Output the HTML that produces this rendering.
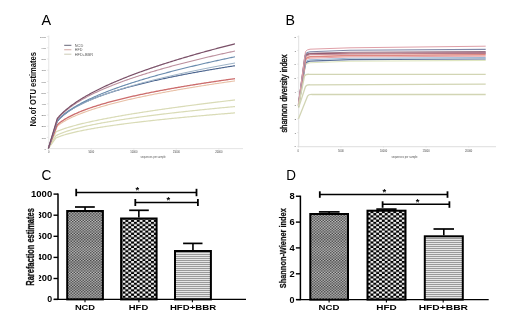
<!DOCTYPE html>
<html><head><meta charset="utf-8"><style>
html,body{margin:0;padding:0;background:#fff;overflow:hidden;}
svg{display:block;will-change:transform;}
text{font-family:"Liberation Sans", sans-serif;}
</style></head><body>
<svg width="520" height="321" viewBox="0 0 520 321">
<rect width="520" height="321" fill="#fff"/>
<text x="41.6" y="25" font-size="13.8" font-weight="normal" fill="#000" text-anchor="start" textLength="9.6" lengthAdjust="spacingAndGlyphs" >A</text>
<line x1="48.8" y1="35.5" x2="48.8" y2="149.1" stroke="#e2e2e2" stroke-width="0.9" />
<line x1="47.9" y1="148.6" x2="243" y2="148.6" stroke="#e2e2e2" stroke-width="0.9" />
<line x1="46.9" y1="148.6" x2="48.4" y2="148.6" stroke="#d4d4d4" stroke-width="0.5" />
<text transform="translate(46.1,149.70) scale(1,0.75)" font-size="2.8" fill="#555" text-anchor="end">0</text>
<line x1="46.9" y1="137.4" x2="48.4" y2="137.4" stroke="#d4d4d4" stroke-width="0.5" />
<text transform="translate(46.1,138.50) scale(1,0.75)" font-size="2.8" fill="#555" text-anchor="end">100</text>
<line x1="46.9" y1="126.19999999999999" x2="48.4" y2="126.19999999999999" stroke="#d4d4d4" stroke-width="0.5" />
<text transform="translate(46.1,127.30) scale(1,0.75)" font-size="2.8" fill="#555" text-anchor="end">200</text>
<line x1="46.9" y1="115.0" x2="48.4" y2="115.0" stroke="#d4d4d4" stroke-width="0.5" />
<text transform="translate(46.1,116.10) scale(1,0.75)" font-size="2.8" fill="#555" text-anchor="end">300</text>
<line x1="46.9" y1="103.8" x2="48.4" y2="103.8" stroke="#d4d4d4" stroke-width="0.5" />
<text transform="translate(46.1,104.90) scale(1,0.75)" font-size="2.8" fill="#555" text-anchor="end">400</text>
<line x1="46.9" y1="92.6" x2="48.4" y2="92.6" stroke="#d4d4d4" stroke-width="0.5" />
<text transform="translate(46.1,93.70) scale(1,0.75)" font-size="2.8" fill="#555" text-anchor="end">500</text>
<line x1="46.9" y1="81.4" x2="48.4" y2="81.4" stroke="#d4d4d4" stroke-width="0.5" />
<text transform="translate(46.1,82.50) scale(1,0.75)" font-size="2.8" fill="#555" text-anchor="end">600</text>
<line x1="46.9" y1="70.2" x2="48.4" y2="70.2" stroke="#d4d4d4" stroke-width="0.5" />
<text transform="translate(46.1,71.30) scale(1,0.75)" font-size="2.8" fill="#555" text-anchor="end">700</text>
<line x1="46.9" y1="59.0" x2="48.4" y2="59.0" stroke="#d4d4d4" stroke-width="0.5" />
<text transform="translate(46.1,60.10) scale(1,0.75)" font-size="2.8" fill="#555" text-anchor="end">800</text>
<line x1="46.9" y1="47.8" x2="48.4" y2="47.8" stroke="#d4d4d4" stroke-width="0.5" />
<text transform="translate(46.1,48.90) scale(1,0.75)" font-size="2.8" fill="#555" text-anchor="end">900</text>
<line x1="46.9" y1="36.599999999999994" x2="48.4" y2="36.599999999999994" stroke="#d4d4d4" stroke-width="0.5" />
<text transform="translate(46.1,37.70) scale(1,0.75)" font-size="2.8" fill="#555" text-anchor="end">1000</text>
<line x1="48.8" y1="148.6" x2="48.8" y2="149.79999999999998" stroke="#d4d4d4" stroke-width="0.5" />
<text x="48.8" y="153.1" font-size="2.6" font-weight="normal" fill="#444" text-anchor="middle" >0</text>
<line x1="91.3" y1="148.6" x2="91.3" y2="149.79999999999998" stroke="#d4d4d4" stroke-width="0.5" />
<text x="91.3" y="153.1" font-size="2.6" font-weight="normal" fill="#444" text-anchor="middle" >5000</text>
<line x1="133.8" y1="148.6" x2="133.8" y2="149.79999999999998" stroke="#d4d4d4" stroke-width="0.5" />
<text x="133.8" y="153.1" font-size="2.6" font-weight="normal" fill="#444" text-anchor="middle" >10000</text>
<line x1="176.3" y1="148.6" x2="176.3" y2="149.79999999999998" stroke="#d4d4d4" stroke-width="0.5" />
<text x="176.3" y="153.1" font-size="2.6" font-weight="normal" fill="#444" text-anchor="middle" >15000</text>
<line x1="218.8" y1="148.6" x2="218.8" y2="149.79999999999998" stroke="#d4d4d4" stroke-width="0.5" />
<text x="218.8" y="153.1" font-size="2.6" font-weight="normal" fill="#444" text-anchor="middle" >20000</text>
<text x="153.1" y="158" font-size="2.6" font-weight="normal" fill="#555" text-anchor="middle" textLength="25" lengthAdjust="spacingAndGlyphs" >sequences per sample</text>
<text transform="translate(35.5,126.5) rotate(-90)" font-size="9" font-weight="bold" fill="#111" textLength="74.5" lengthAdjust="spacingAndGlyphs">No.of OTU estimates</text>
<line x1="64.2" y1="45.3" x2="71.4" y2="45.3" stroke="#666678" stroke-width="1.0" />
<text x="74.8" y="46.65" font-size="4.0" font-weight="normal" fill="#555" text-anchor="start" textLength="8.4" lengthAdjust="spacingAndGlyphs" >NCD</text>
<line x1="64.2" y1="49.75" x2="71.4" y2="49.75" stroke="#d4a8a4" stroke-width="1.0" />
<text x="74.8" y="51.1" font-size="4.0" font-weight="normal" fill="#555" text-anchor="start" textLength="7.6" lengthAdjust="spacingAndGlyphs" >HFD</text>
<line x1="64.2" y1="54.199999999999996" x2="71.4" y2="54.199999999999996" stroke="#cccbb6" stroke-width="1.0" />
<text x="74.8" y="55.55" font-size="4.0" font-weight="normal" fill="#555" text-anchor="start" textLength="18.2" lengthAdjust="spacingAndGlyphs" >HFD+BBR</text>
<path d="M48.4,148.3 L56.0,137.99 L56.0,137.99 L57.0,137.55 L58.0,137.13 L59.0,136.74 L60.0,136.37 L61.0,136.01 L62.0,135.67 L63.0,135.34 L64.0,135.03 L65.0,134.72 L66.0,134.43 L67.0,134.14 L68.0,133.87 L69.0,133.60 L70.0,133.34 L71.0,133.08 L72.0,132.83 L73.0,132.59 L74.0,132.35 L75.0,132.12 L76.0,131.89 L77.0,131.66 L78.0,131.44 L79.0,131.23 L80.0,131.01 L81.0,130.81 L82.0,130.60 L83.0,130.40 L84.0,130.20 L85.0,130.01 L86.0,129.81 L87.0,129.62 L88.0,129.44 L89.0,129.25 L90.0,129.07 L91.0,128.89 L92.0,128.71 L93.0,128.54 L94.0,128.36 L95.0,128.19 L96.0,128.02 L97.0,127.86 L98.0,127.69 L99.0,127.53 L100.0,127.37 L101.0,127.21 L102.0,127.05 L103.0,126.89 L104.0,126.74 L105.0,126.58 L106.0,126.43 L107.0,126.28 L108.0,126.13 L109.0,125.98 L110.0,125.84 L111.0,125.69 L112.0,125.55 L113.0,125.40 L114.0,125.26 L115.0,125.12 L116.0,124.98 L117.0,124.85 L118.0,124.71 L119.0,124.57 L120.0,124.44 L121.0,124.30 L122.0,124.17 L123.0,124.04 L124.0,123.91 L125.0,123.78 L126.0,123.65 L127.0,123.52 L128.0,123.39 L129.0,123.27 L130.0,123.14 L131.0,123.02 L132.0,122.89 L133.0,122.77 L134.0,122.65 L135.0,122.52 L136.0,122.40 L137.0,122.28 L138.0,122.16 L139.0,122.05 L140.0,121.93 L141.0,121.81 L142.0,121.69 L143.0,121.58 L144.0,121.46 L145.0,121.35 L146.0,121.23 L147.0,121.12 L148.0,121.01 L149.0,120.90 L150.0,120.79 L151.0,120.67 L152.0,120.56 L153.0,120.46 L154.0,120.35 L155.0,120.24 L156.0,120.13 L157.0,120.02 L158.0,119.92 L159.0,119.81 L160.0,119.70 L161.0,119.60 L162.0,119.49 L163.0,119.39 L164.0,119.29 L165.0,119.18 L166.0,119.08 L167.0,118.98 L168.0,118.88 L169.0,118.77 L170.0,118.67 L171.0,118.57 L172.0,118.47 L173.0,118.37 L174.0,118.27 L175.0,118.17 L176.0,118.08 L177.0,117.98 L178.0,117.88 L179.0,117.78 L180.0,117.69 L181.0,117.59 L182.0,117.50 L183.0,117.40 L184.0,117.30 L185.0,117.21 L186.0,117.12 L187.0,117.02 L188.0,116.93 L189.0,116.83 L190.0,116.74 L191.0,116.65 L192.0,116.56 L193.0,116.47 L194.0,116.37 L195.0,116.28 L196.0,116.19 L197.0,116.10 L198.0,116.01 L199.0,115.92 L200.0,115.83 L201.0,115.74 L202.0,115.65 L203.0,115.57 L204.0,115.48 L205.0,115.39 L206.0,115.30 L207.0,115.22 L208.0,115.13 L209.0,115.04 L210.0,114.96 L211.0,114.87 L212.0,114.78 L213.0,114.70 L214.0,114.61 L215.0,114.53 L216.0,114.44 L217.0,114.36 L218.0,114.27 L219.0,114.19 L220.0,114.11 L221.0,114.02 L222.0,113.94 L223.0,113.86 L224.0,113.78 L225.0,113.69 L226.0,113.61 L227.0,113.53 L228.0,113.45 L229.0,113.37 L230.0,113.29 L231.0,113.20 L232.0,113.12 L233.0,113.04 L234.0,112.96 L235.0,112.88" fill="none" stroke="#d9dbb6" stroke-width="1.2" stroke-linejoin="round" />
<path d="M48.4,148.3 L56.0,135.66 L56.0,135.66 L57.0,135.14 L58.0,134.66 L59.0,134.20 L60.0,133.77 L61.0,133.36 L62.0,132.96 L63.0,132.58 L64.0,132.21 L65.0,131.86 L66.0,131.52 L67.0,131.19 L68.0,130.87 L69.0,130.56 L70.0,130.25 L71.0,129.96 L72.0,129.67 L73.0,129.38 L74.0,129.11 L75.0,128.84 L76.0,128.57 L77.0,128.31 L78.0,128.06 L79.0,127.81 L80.0,127.56 L81.0,127.32 L82.0,127.08 L83.0,126.85 L84.0,126.62 L85.0,126.39 L86.0,126.17 L87.0,125.95 L88.0,125.73 L89.0,125.52 L90.0,125.30 L91.0,125.10 L92.0,124.89 L93.0,124.69 L94.0,124.49 L95.0,124.29 L96.0,124.09 L97.0,123.90 L98.0,123.71 L99.0,123.52 L100.0,123.33 L101.0,123.14 L102.0,122.96 L103.0,122.78 L104.0,122.60 L105.0,122.42 L106.0,122.25 L107.0,122.07 L108.0,121.90 L109.0,121.73 L110.0,121.56 L111.0,121.39 L112.0,121.22 L113.0,121.06 L114.0,120.89 L115.0,120.73 L116.0,120.57 L117.0,120.41 L118.0,120.25 L119.0,120.09 L120.0,119.93 L121.0,119.78 L122.0,119.62 L123.0,119.47 L124.0,119.32 L125.0,119.17 L126.0,119.02 L127.0,118.87 L128.0,118.72 L129.0,118.58 L130.0,118.43 L131.0,118.29 L132.0,118.14 L133.0,118.00 L134.0,117.86 L135.0,117.72 L136.0,117.58 L137.0,117.44 L138.0,117.30 L139.0,117.16 L140.0,117.03 L141.0,116.89 L142.0,116.76 L143.0,116.62 L144.0,116.49 L145.0,116.35 L146.0,116.22 L147.0,116.09 L148.0,115.96 L149.0,115.83 L150.0,115.70 L151.0,115.57 L152.0,115.45 L153.0,115.32 L154.0,115.19 L155.0,115.07 L156.0,114.94 L157.0,114.82 L158.0,114.69 L159.0,114.57 L160.0,114.45 L161.0,114.33 L162.0,114.21 L163.0,114.08 L164.0,113.96 L165.0,113.84 L166.0,113.73 L167.0,113.61 L168.0,113.49 L169.0,113.37 L170.0,113.25 L171.0,113.14 L172.0,113.02 L173.0,112.91 L174.0,112.79 L175.0,112.68 L176.0,112.56 L177.0,112.45 L178.0,112.34 L179.0,112.22 L180.0,112.11 L181.0,112.00 L182.0,111.89 L183.0,111.78 L184.0,111.67 L185.0,111.56 L186.0,111.45 L187.0,111.34 L188.0,111.23 L189.0,111.13 L190.0,111.02 L191.0,110.91 L192.0,110.80 L193.0,110.70 L194.0,110.59 L195.0,110.49 L196.0,110.38 L197.0,110.28 L198.0,110.17 L199.0,110.07 L200.0,109.96 L201.0,109.86 L202.0,109.76 L203.0,109.66 L204.0,109.55 L205.0,109.45 L206.0,109.35 L207.0,109.25 L208.0,109.15 L209.0,109.05 L210.0,108.95 L211.0,108.85 L212.0,108.75 L213.0,108.65 L214.0,108.55 L215.0,108.45 L216.0,108.35 L217.0,108.26 L218.0,108.16 L219.0,108.06 L220.0,107.97 L221.0,107.87 L222.0,107.77 L223.0,107.68 L224.0,107.58 L225.0,107.49 L226.0,107.39 L227.0,107.30 L228.0,107.20 L229.0,107.11 L230.0,107.01 L231.0,106.92 L232.0,106.83 L233.0,106.73 L234.0,106.64 L235.0,106.55" fill="none" stroke="#d9dbb6" stroke-width="1.2" stroke-linejoin="round" />
<path d="M48.4,148.3 L56.0,131.87 L56.0,131.87 L57.0,131.42 L58.0,131.00 L59.0,130.59 L60.0,130.20 L61.0,129.82 L62.0,129.46 L63.0,129.11 L64.0,128.76 L65.0,128.43 L66.0,128.11 L67.0,127.79 L68.0,127.48 L69.0,127.18 L70.0,126.88 L71.0,126.59 L72.0,126.30 L73.0,126.02 L74.0,125.75 L75.0,125.48 L76.0,125.21 L77.0,124.95 L78.0,124.69 L79.0,124.44 L80.0,124.19 L81.0,123.94 L82.0,123.69 L83.0,123.45 L84.0,123.22 L85.0,122.98 L86.0,122.75 L87.0,122.52 L88.0,122.29 L89.0,122.06 L90.0,121.84 L91.0,121.62 L92.0,121.40 L93.0,121.19 L94.0,120.97 L95.0,120.76 L96.0,120.55 L97.0,120.34 L98.0,120.14 L99.0,119.93 L100.0,119.73 L101.0,119.53 L102.0,119.33 L103.0,119.13 L104.0,118.93 L105.0,118.74 L106.0,118.55 L107.0,118.35 L108.0,118.16 L109.0,117.97 L110.0,117.79 L111.0,117.60 L112.0,117.41 L113.0,117.23 L114.0,117.05 L115.0,116.87 L116.0,116.69 L117.0,116.51 L118.0,116.33 L119.0,116.15 L120.0,115.97 L121.0,115.80 L122.0,115.63 L123.0,115.45 L124.0,115.28 L125.0,115.11 L126.0,114.94 L127.0,114.77 L128.0,114.60 L129.0,114.44 L130.0,114.27 L131.0,114.10 L132.0,113.94 L133.0,113.78 L134.0,113.61 L135.0,113.45 L136.0,113.29 L137.0,113.13 L138.0,112.97 L139.0,112.81 L140.0,112.65 L141.0,112.49 L142.0,112.34 L143.0,112.18 L144.0,112.02 L145.0,111.87 L146.0,111.72 L147.0,111.56 L148.0,111.41 L149.0,111.26 L150.0,111.11 L151.0,110.96 L152.0,110.81 L153.0,110.66 L154.0,110.51 L155.0,110.36 L156.0,110.21 L157.0,110.06 L158.0,109.92 L159.0,109.77 L160.0,109.63 L161.0,109.48 L162.0,109.34 L163.0,109.19 L164.0,109.05 L165.0,108.91 L166.0,108.77 L167.0,108.62 L168.0,108.48 L169.0,108.34 L170.0,108.20 L171.0,108.06 L172.0,107.92 L173.0,107.78 L174.0,107.65 L175.0,107.51 L176.0,107.37 L177.0,107.23 L178.0,107.10 L179.0,106.96 L180.0,106.83 L181.0,106.69 L182.0,106.56 L183.0,106.42 L184.0,106.29 L185.0,106.16 L186.0,106.02 L187.0,105.89 L188.0,105.76 L189.0,105.63 L190.0,105.50 L191.0,105.37 L192.0,105.23 L193.0,105.10 L194.0,104.97 L195.0,104.85 L196.0,104.72 L197.0,104.59 L198.0,104.46 L199.0,104.33 L200.0,104.20 L201.0,104.08 L202.0,103.95 L203.0,103.82 L204.0,103.70 L205.0,103.57 L206.0,103.45 L207.0,103.32 L208.0,103.20 L209.0,103.07 L210.0,102.95 L211.0,102.83 L212.0,102.70 L213.0,102.58 L214.0,102.46 L215.0,102.33 L216.0,102.21 L217.0,102.09 L218.0,101.97 L219.0,101.85 L220.0,101.73 L221.0,101.61 L222.0,101.49 L223.0,101.37 L224.0,101.25 L225.0,101.13 L226.0,101.01 L227.0,100.89 L228.0,100.77 L229.0,100.65 L230.0,100.53 L231.0,100.42 L232.0,100.30 L233.0,100.18 L234.0,100.07 L235.0,99.95" fill="none" stroke="#d9dbb6" stroke-width="1.2" stroke-linejoin="round" />
<path d="M48.4,148.3 L57.3,126.11 L58.0,125.55 L59.0,124.79 L60.0,124.07 L61.0,123.38 L62.0,122.73 L63.0,122.10 L64.0,121.50 L65.0,120.91 L66.0,120.35 L67.0,119.81 L68.0,119.28 L69.0,118.77 L70.0,118.27 L71.0,117.79 L72.0,117.32 L73.0,116.85 L74.0,116.40 L75.0,115.96 L76.0,115.53 L77.0,115.11 L78.0,114.70 L79.0,114.29 L80.0,113.90 L81.0,113.50 L82.0,113.12 L83.0,112.74 L84.0,112.37 L85.0,112.01 L86.0,111.65 L87.0,111.29 L88.0,110.95 L89.0,110.60 L90.0,110.26 L91.0,109.93 L92.0,109.60 L93.0,109.27 L94.0,108.95 L95.0,108.64 L96.0,108.32 L97.0,108.01 L98.0,107.71 L99.0,107.41 L100.0,107.11 L101.0,106.81 L102.0,106.52 L103.0,106.23 L104.0,105.94 L105.0,105.66 L106.0,105.38 L107.0,105.10 L108.0,104.83 L109.0,104.55 L110.0,104.29 L111.0,104.02 L112.0,103.75 L113.0,103.49 L114.0,103.23 L115.0,102.97 L116.0,102.72 L117.0,102.46 L118.0,102.21 L119.0,101.96 L120.0,101.72 L121.0,101.47 L122.0,101.23 L123.0,100.99 L124.0,100.75 L125.0,100.51 L126.0,100.27 L127.0,100.04 L128.0,99.81 L129.0,99.58 L130.0,99.35 L131.0,99.12 L132.0,98.89 L133.0,98.67 L134.0,98.45 L135.0,98.23 L136.0,98.01 L137.0,97.79 L138.0,97.57 L139.0,97.36 L140.0,97.14 L141.0,96.93 L142.0,96.72 L143.0,96.51 L144.0,96.30 L145.0,96.09 L146.0,95.88 L147.0,95.68 L148.0,95.47 L149.0,95.27 L150.0,95.07 L151.0,94.87 L152.0,94.67 L153.0,94.47 L154.0,94.27 L155.0,94.08 L156.0,93.88 L157.0,93.69 L158.0,93.49 L159.0,93.30 L160.0,93.11 L161.0,92.92 L162.0,92.73 L163.0,92.54 L164.0,92.36 L165.0,92.17 L166.0,91.98 L167.0,91.80 L168.0,91.62 L169.0,91.43 L170.0,91.25 L171.0,91.07 L172.0,90.89 L173.0,90.71 L174.0,90.53 L175.0,90.35 L176.0,90.18 L177.0,90.00 L178.0,89.83 L179.0,89.65 L180.0,89.48 L181.0,89.30 L182.0,89.13 L183.0,88.96 L184.0,88.79 L185.0,88.62 L186.0,88.45 L187.0,88.28 L188.0,88.11 L189.0,87.95 L190.0,87.78 L191.0,87.61 L192.0,87.45 L193.0,87.28 L194.0,87.12 L195.0,86.96 L196.0,86.79 L197.0,86.63 L198.0,86.47 L199.0,86.31 L200.0,86.15 L201.0,85.99 L202.0,85.83 L203.0,85.67 L204.0,85.51 L205.0,85.36 L206.0,85.20 L207.0,85.04 L208.0,84.89 L209.0,84.73 L210.0,84.58 L211.0,84.43 L212.0,84.27 L213.0,84.12 L214.0,83.97 L215.0,83.82 L216.0,83.66 L217.0,83.51 L218.0,83.36 L219.0,83.21 L220.0,83.06 L221.0,82.92 L222.0,82.77 L223.0,82.62 L224.0,82.47 L225.0,82.33 L226.0,82.18 L227.0,82.03 L228.0,81.89 L229.0,81.74 L230.0,81.60 L231.0,81.46 L232.0,81.31 L233.0,81.17 L234.0,81.03 L235.0,80.89" fill="none" stroke="#e8c0a6" stroke-width="1.1" stroke-linejoin="round" />
<path d="M48.4,148.3 L57.3,124.75 L58.0,124.14 L59.0,123.32 L60.0,122.54 L61.0,121.80 L62.0,121.09 L63.0,120.42 L64.0,119.77 L65.0,119.15 L66.0,118.56 L67.0,117.98 L68.0,117.42 L69.0,116.88 L70.0,116.36 L71.0,115.85 L72.0,115.35 L73.0,114.86 L74.0,114.39 L75.0,113.93 L76.0,113.48 L77.0,113.04 L78.0,112.61 L79.0,112.19 L80.0,111.77 L81.0,111.37 L82.0,110.97 L83.0,110.58 L84.0,110.19 L85.0,109.81 L86.0,109.44 L87.0,109.08 L88.0,108.72 L89.0,108.36 L90.0,108.01 L91.0,107.67 L92.0,107.33 L93.0,106.99 L94.0,106.66 L95.0,106.34 L96.0,106.02 L97.0,105.70 L98.0,105.39 L99.0,105.08 L100.0,104.77 L101.0,104.47 L102.0,104.17 L103.0,103.88 L104.0,103.59 L105.0,103.30 L106.0,103.01 L107.0,102.73 L108.0,102.45 L109.0,102.17 L110.0,101.90 L111.0,101.63 L112.0,101.36 L113.0,101.09 L114.0,100.83 L115.0,100.57 L116.0,100.31 L117.0,100.05 L118.0,99.80 L119.0,99.55 L120.0,99.30 L121.0,99.05 L122.0,98.80 L123.0,98.56 L124.0,98.32 L125.0,98.08 L126.0,97.84 L127.0,97.61 L128.0,97.37 L129.0,97.14 L130.0,96.91 L131.0,96.68 L132.0,96.45 L133.0,96.23 L134.0,96.00 L135.0,95.78 L136.0,95.56 L137.0,95.34 L138.0,95.12 L139.0,94.91 L140.0,94.69 L141.0,94.48 L142.0,94.27 L143.0,94.06 L144.0,93.85 L145.0,93.64 L146.0,93.44 L147.0,93.23 L148.0,93.03 L149.0,92.82 L150.0,92.62 L151.0,92.42 L152.0,92.22 L153.0,92.02 L154.0,91.83 L155.0,91.63 L156.0,91.44 L157.0,91.24 L158.0,91.05 L159.0,90.86 L160.0,90.67 L161.0,90.48 L162.0,90.29 L163.0,90.11 L164.0,89.92 L165.0,89.74 L166.0,89.55 L167.0,89.37 L168.0,89.19 L169.0,89.01 L170.0,88.82 L171.0,88.65 L172.0,88.47 L173.0,88.29 L174.0,88.11 L175.0,87.94 L176.0,87.76 L177.0,87.59 L178.0,87.41 L179.0,87.24 L180.0,87.07 L181.0,86.90 L182.0,86.73 L183.0,86.56 L184.0,86.39 L185.0,86.22 L186.0,86.05 L187.0,85.89 L188.0,85.72 L189.0,85.56 L190.0,85.39 L191.0,85.23 L192.0,85.07 L193.0,84.90 L194.0,84.74 L195.0,84.58 L196.0,84.42 L197.0,84.26 L198.0,84.10 L199.0,83.94 L200.0,83.79 L201.0,83.63 L202.0,83.47 L203.0,83.32 L204.0,83.16 L205.0,83.01 L206.0,82.85 L207.0,82.70 L208.0,82.55 L209.0,82.40 L210.0,82.25 L211.0,82.09 L212.0,81.94 L213.0,81.79 L214.0,81.64 L215.0,81.50 L216.0,81.35 L217.0,81.20 L218.0,81.05 L219.0,80.91 L220.0,80.76 L221.0,80.61 L222.0,80.47 L223.0,80.33 L224.0,80.18 L225.0,80.04 L226.0,79.89 L227.0,79.75 L228.0,79.61 L229.0,79.47 L230.0,79.33 L231.0,79.19 L232.0,79.05 L233.0,78.91 L234.0,78.77 L235.0,78.63" fill="none" stroke="#cc6c6c" stroke-width="1.3" stroke-linejoin="round" />
<path d="M48.4,148.3 L57.3,121.32 L58.0,120.51 L59.0,119.41 L60.0,118.39 L61.0,117.42 L62.0,116.51 L63.0,115.63 L64.0,114.80 L65.0,114.00 L66.0,113.24 L67.0,112.50 L68.0,111.79 L69.0,111.10 L70.0,110.43 L71.0,109.78 L72.0,109.16 L73.0,108.55 L74.0,107.95 L75.0,107.38 L76.0,106.81 L77.0,106.26 L78.0,105.73 L79.0,105.20 L80.0,104.69 L81.0,104.18 L82.0,103.69 L83.0,103.20 L84.0,102.73 L85.0,102.26 L86.0,101.81 L87.0,101.36 L88.0,100.92 L89.0,100.48 L90.0,100.06 L91.0,99.64 L92.0,99.22 L93.0,98.81 L94.0,98.41 L95.0,98.02 L96.0,97.63 L97.0,97.24 L98.0,96.86 L99.0,96.49 L100.0,96.12 L101.0,95.76 L102.0,95.40 L103.0,95.04 L104.0,94.69 L105.0,94.34 L106.0,94.00 L107.0,93.66 L108.0,93.32 L109.0,92.99 L110.0,92.66 L111.0,92.34 L112.0,92.02 L113.0,91.70 L114.0,91.39 L115.0,91.08 L116.0,90.77 L117.0,90.46 L118.0,90.16 L119.0,89.86 L120.0,89.57 L121.0,89.27 L122.0,88.98 L123.0,88.69 L124.0,88.41 L125.0,88.12 L126.0,87.84 L127.0,87.56 L128.0,87.29 L129.0,87.01 L130.0,86.74 L131.0,86.47 L132.0,86.21 L133.0,85.94 L134.0,85.68 L135.0,85.42 L136.0,85.16 L137.0,84.90 L138.0,84.65 L139.0,84.39 L140.0,84.14 L141.0,83.89 L142.0,83.64 L143.0,83.40 L144.0,83.15 L145.0,82.91 L146.0,82.67 L147.0,82.43 L148.0,82.19 L149.0,81.96 L150.0,81.72 L151.0,81.49 L152.0,81.26 L153.0,81.03 L154.0,80.80 L155.0,80.57 L156.0,80.35 L157.0,80.12 L158.0,79.90 L159.0,79.68 L160.0,79.46 L161.0,79.24 L162.0,79.02 L163.0,78.80 L164.0,78.59 L165.0,78.37 L166.0,78.16 L167.0,77.95 L168.0,77.74 L169.0,77.53 L170.0,77.32 L171.0,77.12 L172.0,76.91 L173.0,76.71 L174.0,76.50 L175.0,76.30 L176.0,76.10 L177.0,75.90 L178.0,75.70 L179.0,75.50 L180.0,75.30 L181.0,75.11 L182.0,74.91 L183.0,74.72 L184.0,74.52 L185.0,74.33 L186.0,74.14 L187.0,73.95 L188.0,73.76 L189.0,73.57 L190.0,73.38 L191.0,73.20 L192.0,73.01 L193.0,72.82 L194.0,72.64 L195.0,72.46 L196.0,72.27 L197.0,72.09 L198.0,71.91 L199.0,71.73 L200.0,71.55 L201.0,71.37 L202.0,71.19 L203.0,71.02 L204.0,70.84 L205.0,70.67 L206.0,70.49 L207.0,70.32 L208.0,70.14 L209.0,69.97 L210.0,69.80 L211.0,69.63 L212.0,69.46 L213.0,69.29 L214.0,69.12 L215.0,68.95 L216.0,68.78 L217.0,68.61 L218.0,68.45 L219.0,68.28 L220.0,68.12 L221.0,67.95 L222.0,67.79 L223.0,67.62 L224.0,67.46 L225.0,67.30 L226.0,67.14 L227.0,66.98 L228.0,66.82 L229.0,66.66 L230.0,66.50 L231.0,66.34 L232.0,66.18 L233.0,66.02 L234.0,65.87 L235.0,65.71" fill="none" stroke="#48628c" stroke-width="1.1" stroke-linejoin="round" />
<path d="M48.4,148.3 L57.3,120.75 L58.0,120.02 L59.0,119.02 L60.0,118.08 L61.0,117.19 L62.0,116.34 L63.0,115.52 L64.0,114.73 L65.0,113.98 L66.0,113.25 L67.0,112.55 L68.0,111.87 L69.0,111.20 L70.0,110.56 L71.0,109.93 L72.0,109.32 L73.0,108.73 L74.0,108.15 L75.0,107.58 L76.0,107.03 L77.0,106.48 L78.0,105.95 L79.0,105.43 L80.0,104.92 L81.0,104.42 L82.0,103.92 L83.0,103.44 L84.0,102.96 L85.0,102.49 L86.0,102.03 L87.0,101.58 L88.0,101.13 L89.0,100.69 L90.0,100.26 L91.0,99.83 L92.0,99.40 L93.0,98.99 L94.0,98.58 L95.0,98.17 L96.0,97.77 L97.0,97.37 L98.0,96.98 L99.0,96.60 L100.0,96.22 L101.0,95.84 L102.0,95.46 L103.0,95.09 L104.0,94.73 L105.0,94.37 L106.0,94.01 L107.0,93.66 L108.0,93.31 L109.0,92.96 L110.0,92.61 L111.0,92.27 L112.0,91.94 L113.0,91.60 L114.0,91.27 L115.0,90.94 L116.0,90.62 L117.0,90.29 L118.0,89.97 L119.0,89.66 L120.0,89.34 L121.0,89.03 L122.0,88.72 L123.0,88.41 L124.0,88.11 L125.0,87.81 L126.0,87.51 L127.0,87.21 L128.0,86.91 L129.0,86.62 L130.0,86.33 L131.0,86.04 L132.0,85.75 L133.0,85.47 L134.0,85.19 L135.0,84.91 L136.0,84.63 L137.0,84.35 L138.0,84.07 L139.0,83.80 L140.0,83.53 L141.0,83.26 L142.0,82.99 L143.0,82.72 L144.0,82.46 L145.0,82.19 L146.0,81.93 L147.0,81.67 L148.0,81.41 L149.0,81.16 L150.0,80.90 L151.0,80.65 L152.0,80.39 L153.0,80.14 L154.0,79.89 L155.0,79.64 L156.0,79.40 L157.0,79.15 L158.0,78.91 L159.0,78.66 L160.0,78.42 L161.0,78.18 L162.0,77.94 L163.0,77.70 L164.0,77.46 L165.0,77.23 L166.0,76.99 L167.0,76.76 L168.0,76.53 L169.0,76.30 L170.0,76.07 L171.0,75.84 L172.0,75.61 L173.0,75.38 L174.0,75.16 L175.0,74.93 L176.0,74.71 L177.0,74.49 L178.0,74.27 L179.0,74.05 L180.0,73.83 L181.0,73.61 L182.0,73.39 L183.0,73.17 L184.0,72.96 L185.0,72.74 L186.0,72.53 L187.0,72.32 L188.0,72.11 L189.0,71.89 L190.0,71.68 L191.0,71.47 L192.0,71.27 L193.0,71.06 L194.0,70.85 L195.0,70.65 L196.0,70.44 L197.0,70.24 L198.0,70.03 L199.0,69.83 L200.0,69.63 L201.0,69.43 L202.0,69.23 L203.0,69.03 L204.0,68.83 L205.0,68.63 L206.0,68.43 L207.0,68.24 L208.0,68.04 L209.0,67.84 L210.0,67.65 L211.0,67.46 L212.0,67.26 L213.0,67.07 L214.0,66.88 L215.0,66.69 L216.0,66.50 L217.0,66.31 L218.0,66.12 L219.0,65.93 L220.0,65.74 L221.0,65.56 L222.0,65.37 L223.0,65.18 L224.0,65.00 L225.0,64.81 L226.0,64.63 L227.0,64.45 L228.0,64.26 L229.0,64.08 L230.0,63.90 L231.0,63.72 L232.0,63.54 L233.0,63.36 L234.0,63.18 L235.0,63.00" fill="none" stroke="#9eb4c8" stroke-width="1.0" stroke-linejoin="round" />
<path d="M48.4,148.3 L57.3,120.45 L58.0,119.70 L59.0,118.69 L60.0,117.72 L61.0,116.81 L62.0,115.93 L63.0,115.08 L64.0,114.27 L65.0,113.48 L66.0,112.72 L67.0,111.98 L68.0,111.27 L69.0,110.57 L70.0,109.89 L71.0,109.23 L72.0,108.59 L73.0,107.96 L74.0,107.34 L75.0,106.74 L76.0,106.14 L77.0,105.56 L78.0,104.99 L79.0,104.44 L80.0,103.89 L81.0,103.35 L82.0,102.82 L83.0,102.29 L84.0,101.78 L85.0,101.27 L86.0,100.77 L87.0,100.28 L88.0,99.80 L89.0,99.32 L90.0,98.85 L91.0,98.38 L92.0,97.92 L93.0,97.47 L94.0,97.02 L95.0,96.58 L96.0,96.14 L97.0,95.71 L98.0,95.28 L99.0,94.85 L100.0,94.43 L101.0,94.02 L102.0,93.61 L103.0,93.20 L104.0,92.80 L105.0,92.40 L106.0,92.01 L107.0,91.62 L108.0,91.23 L109.0,90.84 L110.0,90.46 L111.0,90.09 L112.0,89.71 L113.0,89.34 L114.0,88.97 L115.0,88.61 L116.0,88.25 L117.0,87.89 L118.0,87.53 L119.0,87.18 L120.0,86.83 L121.0,86.48 L122.0,86.14 L123.0,85.79 L124.0,85.45 L125.0,85.12 L126.0,84.78 L127.0,84.45 L128.0,84.12 L129.0,83.79 L130.0,83.46 L131.0,83.14 L132.0,82.82 L133.0,82.50 L134.0,82.18 L135.0,81.86 L136.0,81.55 L137.0,81.24 L138.0,80.93 L139.0,80.62 L140.0,80.31 L141.0,80.01 L142.0,79.71 L143.0,79.40 L144.0,79.10 L145.0,78.81 L146.0,78.51 L147.0,78.22 L148.0,77.92 L149.0,77.63 L150.0,77.34 L151.0,77.06 L152.0,76.77 L153.0,76.48 L154.0,76.20 L155.0,75.92 L156.0,75.64 L157.0,75.36 L158.0,75.08 L159.0,74.80 L160.0,74.53 L161.0,74.26 L162.0,73.98 L163.0,73.71 L164.0,73.44 L165.0,73.17 L166.0,72.91 L167.0,72.64 L168.0,72.38 L169.0,72.11 L170.0,71.85 L171.0,71.59 L172.0,71.33 L173.0,71.07 L174.0,70.81 L175.0,70.55 L176.0,70.30 L177.0,70.04 L178.0,69.79 L179.0,69.54 L180.0,69.29 L181.0,69.04 L182.0,68.79 L183.0,68.54 L184.0,68.29 L185.0,68.04 L186.0,67.80 L187.0,67.55 L188.0,67.31 L189.0,67.07 L190.0,66.83 L191.0,66.59 L192.0,66.35 L193.0,66.11 L194.0,65.87 L195.0,65.63 L196.0,65.40 L197.0,65.16 L198.0,64.93 L199.0,64.69 L200.0,64.46 L201.0,64.23 L202.0,64.00 L203.0,63.77 L204.0,63.54 L205.0,63.31 L206.0,63.08 L207.0,62.85 L208.0,62.63 L209.0,62.40 L210.0,62.18 L211.0,61.95 L212.0,61.73 L213.0,61.51 L214.0,61.28 L215.0,61.06 L216.0,60.84 L217.0,60.62 L218.0,60.40 L219.0,60.19 L220.0,59.97 L221.0,59.75 L222.0,59.53 L223.0,59.32 L224.0,59.10 L225.0,58.89 L226.0,58.68 L227.0,58.46 L228.0,58.25 L229.0,58.04 L230.0,57.83 L231.0,57.62 L232.0,57.41 L233.0,57.20 L234.0,56.99 L235.0,56.78" fill="none" stroke="#6a8cae" stroke-width="1.1" stroke-linejoin="round" />
<path d="M48.4,148.3 L57.3,119.31 L58.0,118.46 L59.0,117.31 L60.0,116.21 L61.0,115.17 L62.0,114.18 L63.0,113.23 L64.0,112.31 L65.0,111.43 L66.0,110.58 L67.0,109.76 L68.0,108.96 L69.0,108.19 L70.0,107.43 L71.0,106.70 L72.0,105.99 L73.0,105.29 L74.0,104.61 L75.0,103.94 L76.0,103.29 L77.0,102.65 L78.0,102.03 L79.0,101.42 L80.0,100.81 L81.0,100.22 L82.0,99.64 L83.0,99.07 L84.0,98.51 L85.0,97.96 L86.0,97.42 L87.0,96.88 L88.0,96.36 L89.0,95.84 L90.0,95.32 L91.0,94.82 L92.0,94.32 L93.0,93.83 L94.0,93.35 L95.0,92.87 L96.0,92.39 L97.0,91.93 L98.0,91.46 L99.0,91.01 L100.0,90.56 L101.0,90.11 L102.0,89.67 L103.0,89.23 L104.0,88.80 L105.0,88.37 L106.0,87.95 L107.0,87.53 L108.0,87.12 L109.0,86.70 L110.0,86.30 L111.0,85.89 L112.0,85.49 L113.0,85.10 L114.0,84.71 L115.0,84.32 L116.0,83.93 L117.0,83.55 L118.0,83.17 L119.0,82.79 L120.0,82.42 L121.0,82.05 L122.0,81.69 L123.0,81.32 L124.0,80.96 L125.0,80.60 L126.0,80.25 L127.0,79.89 L128.0,79.54 L129.0,79.19 L130.0,78.85 L131.0,78.50 L132.0,78.16 L133.0,77.83 L134.0,77.49 L135.0,77.16 L136.0,76.82 L137.0,76.49 L138.0,76.17 L139.0,75.84 L140.0,75.52 L141.0,75.20 L142.0,74.88 L143.0,74.56 L144.0,74.25 L145.0,73.93 L146.0,73.62 L147.0,73.31 L148.0,73.00 L149.0,72.70 L150.0,72.39 L151.0,72.09 L152.0,71.79 L153.0,71.49 L154.0,71.19 L155.0,70.90 L156.0,70.60 L157.0,70.31 L158.0,70.02 L159.0,69.73 L160.0,69.44 L161.0,69.15 L162.0,68.87 L163.0,68.59 L164.0,68.30 L165.0,68.02 L166.0,67.74 L167.0,67.46 L168.0,67.19 L169.0,66.91 L170.0,66.64 L171.0,66.37 L172.0,66.09 L173.0,65.82 L174.0,65.55 L175.0,65.29 L176.0,65.02 L177.0,64.75 L178.0,64.49 L179.0,64.23 L180.0,63.97 L181.0,63.70 L182.0,63.45 L183.0,63.19 L184.0,62.93 L185.0,62.67 L186.0,62.42 L187.0,62.16 L188.0,61.91 L189.0,61.66 L190.0,61.41 L191.0,61.16 L192.0,60.91 L193.0,60.66 L194.0,60.41 L195.0,60.17 L196.0,59.92 L197.0,59.68 L198.0,59.44 L199.0,59.19 L200.0,58.95 L201.0,58.71 L202.0,58.47 L203.0,58.23 L204.0,58.00 L205.0,57.76 L206.0,57.52 L207.0,57.29 L208.0,57.05 L209.0,56.82 L210.0,56.59 L211.0,56.36 L212.0,56.13 L213.0,55.90 L214.0,55.67 L215.0,55.44 L216.0,55.21 L217.0,54.98 L218.0,54.76 L219.0,54.53 L220.0,54.31 L221.0,54.08 L222.0,53.86 L223.0,53.64 L224.0,53.42 L225.0,53.20 L226.0,52.98 L227.0,52.76 L228.0,52.54 L229.0,52.32 L230.0,52.10 L231.0,51.88 L232.0,51.67 L233.0,51.45 L234.0,51.24 L235.0,51.03" fill="none" stroke="#bc909e" stroke-width="1.1" stroke-linejoin="round" />
<path d="M48.4,148.3 L57.3,118.50 L58.0,117.67 L59.0,116.53 L60.0,115.45 L61.0,114.42 L62.0,113.43 L63.0,112.48 L64.0,111.56 L65.0,110.67 L66.0,109.81 L67.0,108.97 L68.0,108.15 L69.0,107.36 L70.0,106.59 L71.0,105.83 L72.0,105.09 L73.0,104.37 L74.0,103.66 L75.0,102.97 L76.0,102.29 L77.0,101.62 L78.0,100.97 L79.0,100.32 L80.0,99.69 L81.0,99.07 L82.0,98.45 L83.0,97.85 L84.0,97.26 L85.0,96.67 L86.0,96.09 L87.0,95.52 L88.0,94.96 L89.0,94.40 L90.0,93.85 L91.0,93.31 L92.0,92.78 L93.0,92.25 L94.0,91.72 L95.0,91.21 L96.0,90.70 L97.0,90.19 L98.0,89.69 L99.0,89.19 L100.0,88.70 L101.0,88.22 L102.0,87.74 L103.0,87.26 L104.0,86.79 L105.0,86.32 L106.0,85.86 L107.0,85.40 L108.0,84.95 L109.0,84.50 L110.0,84.05 L111.0,83.61 L112.0,83.17 L113.0,82.73 L114.0,82.30 L115.0,81.87 L116.0,81.44 L117.0,81.02 L118.0,80.60 L119.0,80.18 L120.0,79.77 L121.0,79.36 L122.0,78.95 L123.0,78.55 L124.0,78.14 L125.0,77.74 L126.0,77.35 L127.0,76.95 L128.0,76.56 L129.0,76.17 L130.0,75.79 L131.0,75.40 L132.0,75.02 L133.0,74.64 L134.0,74.26 L135.0,73.89 L136.0,73.52 L137.0,73.15 L138.0,72.78 L139.0,72.41 L140.0,72.05 L141.0,71.69 L142.0,71.33 L143.0,70.97 L144.0,70.61 L145.0,70.26 L146.0,69.91 L147.0,69.56 L148.0,69.21 L149.0,68.86 L150.0,68.52 L151.0,68.17 L152.0,67.83 L153.0,67.49 L154.0,67.15 L155.0,66.82 L156.0,66.48 L157.0,66.15 L158.0,65.82 L159.0,65.49 L160.0,65.16 L161.0,64.83 L162.0,64.51 L163.0,64.18 L164.0,63.86 L165.0,63.54 L166.0,63.22 L167.0,62.90 L168.0,62.58 L169.0,62.27 L170.0,61.95 L171.0,61.64 L172.0,61.33 L173.0,61.02 L174.0,60.71 L175.0,60.40 L176.0,60.09 L177.0,59.79 L178.0,59.48 L179.0,59.18 L180.0,58.88 L181.0,58.58 L182.0,58.28 L183.0,57.98 L184.0,57.68 L185.0,57.39 L186.0,57.09 L187.0,56.80 L188.0,56.50 L189.0,56.21 L190.0,55.92 L191.0,55.63 L192.0,55.34 L193.0,55.06 L194.0,54.77 L195.0,54.49 L196.0,54.20 L197.0,53.92 L198.0,53.63 L199.0,53.35 L200.0,53.07 L201.0,52.79 L202.0,52.51 L203.0,52.24 L204.0,51.96 L205.0,51.68 L206.0,51.41 L207.0,51.13 L208.0,50.86 L209.0,50.59 L210.0,50.32 L211.0,50.05 L212.0,49.78 L213.0,49.51 L214.0,49.24 L215.0,48.97 L216.0,48.71 L217.0,48.44 L218.0,48.18 L219.0,47.91 L220.0,47.65 L221.0,47.39 L222.0,47.13 L223.0,46.86 L224.0,46.60 L225.0,46.35 L226.0,46.09 L227.0,45.83 L228.0,45.57 L229.0,45.32 L230.0,45.06 L231.0,44.81 L232.0,44.55 L233.0,44.30 L234.0,44.05 L235.0,43.79" fill="none" stroke="#7a5068" stroke-width="1.2" stroke-linejoin="round" />
<text x="285.4" y="25" font-size="13.8" font-weight="normal" fill="#000" text-anchor="start" textLength="9.5" lengthAdjust="spacingAndGlyphs" >B</text>
<line x1="298.7" y1="35.5" x2="298.7" y2="146.8" stroke="#e0e0e0" stroke-width="1.0" />
<line x1="298.0" y1="146.60000000000002" x2="496" y2="146.60000000000002" stroke="#e4e4e4" stroke-width="1.3" />
<line x1="297.0" y1="146.3" x2="298.5" y2="146.3" stroke="#d4d4d4" stroke-width="0.5" />
<text transform="translate(296,147.40) scale(1,0.8)" font-size="2.8" fill="#444" text-anchor="end">0</text>
<line x1="297.0" y1="132.60000000000002" x2="298.5" y2="132.60000000000002" stroke="#d4d4d4" stroke-width="0.5" />
<text transform="translate(296,133.70) scale(1,0.8)" font-size="2.8" fill="#444" text-anchor="end">1</text>
<line x1="297.0" y1="118.9" x2="298.5" y2="118.9" stroke="#d4d4d4" stroke-width="0.5" />
<text transform="translate(296,120.00) scale(1,0.8)" font-size="2.8" fill="#444" text-anchor="end">2</text>
<line x1="297.0" y1="105.20000000000002" x2="298.5" y2="105.20000000000002" stroke="#d4d4d4" stroke-width="0.5" />
<text transform="translate(296,106.30) scale(1,0.8)" font-size="2.8" fill="#444" text-anchor="end">3</text>
<line x1="297.0" y1="91.50000000000001" x2="298.5" y2="91.50000000000001" stroke="#d4d4d4" stroke-width="0.5" />
<text transform="translate(296,92.60) scale(1,0.8)" font-size="2.8" fill="#444" text-anchor="end">4</text>
<line x1="297.0" y1="77.80000000000001" x2="298.5" y2="77.80000000000001" stroke="#d4d4d4" stroke-width="0.5" />
<text transform="translate(296,78.90) scale(1,0.8)" font-size="2.8" fill="#444" text-anchor="end">5</text>
<line x1="297.0" y1="64.10000000000002" x2="298.5" y2="64.10000000000002" stroke="#d4d4d4" stroke-width="0.5" />
<text transform="translate(296,65.20) scale(1,0.8)" font-size="2.8" fill="#444" text-anchor="end">6</text>
<line x1="297.0" y1="50.40000000000002" x2="298.5" y2="50.40000000000002" stroke="#d4d4d4" stroke-width="0.5" />
<text transform="translate(296,51.50) scale(1,0.8)" font-size="2.8" fill="#444" text-anchor="end">7</text>
<line x1="297.0" y1="36.70000000000002" x2="298.5" y2="36.70000000000002" stroke="#d4d4d4" stroke-width="0.5" />
<text transform="translate(296,37.80) scale(1,0.8)" font-size="2.8" fill="#444" text-anchor="end">8</text>
<line x1="298.3" y1="146.3" x2="298.3" y2="147.5" stroke="#d4d4d4" stroke-width="0.5" />
<text x="298.3" y="152.2" font-size="2.6" font-weight="normal" fill="#444" text-anchor="middle" >0</text>
<line x1="340.90000000000003" y1="146.3" x2="340.90000000000003" y2="147.5" stroke="#d4d4d4" stroke-width="0.5" />
<text x="340.90000000000003" y="152.2" font-size="2.6" font-weight="normal" fill="#444" text-anchor="middle" >5000</text>
<line x1="383.5" y1="146.3" x2="383.5" y2="147.5" stroke="#d4d4d4" stroke-width="0.5" />
<text x="383.5" y="152.2" font-size="2.6" font-weight="normal" fill="#444" text-anchor="middle" >10000</text>
<line x1="426.1" y1="146.3" x2="426.1" y2="147.5" stroke="#d4d4d4" stroke-width="0.5" />
<text x="426.1" y="152.2" font-size="2.6" font-weight="normal" fill="#444" text-anchor="middle" >15000</text>
<line x1="468.70000000000005" y1="146.3" x2="468.70000000000005" y2="147.5" stroke="#d4d4d4" stroke-width="0.5" />
<text x="468.70000000000005" y="152.2" font-size="2.6" font-weight="normal" fill="#444" text-anchor="middle" >20000</text>
<text x="404.5" y="157.5" font-size="2.6" font-weight="normal" fill="#555" text-anchor="middle" textLength="26" lengthAdjust="spacingAndGlyphs" >sequences per sample</text>
<text transform="translate(287.1,132.5) rotate(-90)" font-size="8.4" fill="#111" stroke="#111" stroke-width="0.4" textLength="78" lengthAdjust="spacingAndGlyphs">shannon diversity index</text>
<path d="M298.5,104.5 L305.0,56.0 Q306.5,54.0 309.5,53.7 L350,53.5 L485.7,53.0" fill="none" stroke="#7a3a5c" stroke-width="1.4" stroke-linejoin="round" />
<path d="M298.5,107.5 L305.5,65.0 Q307,63.0 310,62.7 L350,61.2 L485.7,60.4" fill="none" stroke="#dfe6c0" stroke-width="1.1" stroke-linejoin="round" />
<path d="M298.5,107.0 L305.5,63.5 Q307,61.5 310,61.2 L350,59.6 L485.7,59.0" fill="none" stroke="#5c7098" stroke-width="1.2" stroke-linejoin="round" />
<path d="M298.5,106.5 L305.5,62.0 Q307,60.0 310,59.7 L350,58.3 L485.7,57.6" fill="none" stroke="#9cb8d4" stroke-width="1.1" stroke-linejoin="round" />
<path d="M298.5,106.0 L305.5,60.5 Q307,58.5 310,58.2 L350,56.9 L485.7,56.2" fill="none" stroke="#e6a4a8" stroke-width="1.0" stroke-linejoin="round" />
<path d="M298.5,105.5 L305.5,59.0 Q307,57.0 310,56.7 L350,55.5 L485.7,54.8" fill="none" stroke="#e08880" stroke-width="1.5" stroke-linejoin="round" />
<path d="M298.5,105.0 L305.5,57.0 Q307,55.0 310,54.7 L350,53.6 L485.7,53.0" fill="none" stroke="#c98a94" stroke-width="1.1" stroke-linejoin="round" />
<path d="M298.5,104.5 L305.5,55.5 Q307,53.5 310,53.2 L350,52.2 L485.7,51.5" fill="none" stroke="#a07888" stroke-width="1.1" stroke-linejoin="round" />
<path d="M298.5,104.0 L305.5,54.0 Q307,52.0 310,51.7 L350,50.3 L485.7,49.4" fill="none" stroke="#8088a8" stroke-width="1.1" stroke-linejoin="round" />
<path d="M298.5,103.5 L305.5,51.5 Q307,49.5 310,49.2 L350,47.8 L485.7,46.2" fill="none" stroke="#e0a0a8" stroke-width="1.0" stroke-linejoin="round" />
<path d="M298.5,106.0 L304.5,76.0 Q306,74.0 309,74.3 L485.7,74.3" fill="none" stroke="#d2d5b4" stroke-width="1.3" stroke-linejoin="round" />
<path d="M298.5,108.0 L305.5,86.5 Q307,84.5 310,84.8 L485.7,84.2" fill="none" stroke="#d2d5b4" stroke-width="1.3" stroke-linejoin="round" />
<path d="M298.5,118.8 L307.5,96.2 Q309,94.2 312,94.5 L485.7,94.5" fill="none" stroke="#d2d5b4" stroke-width="1.3" stroke-linejoin="round" />
<defs>
<pattern id="pNCD" patternUnits="userSpaceOnUse" width="3" height="2.6"><rect width="3" height="2.6" fill="#c0c0c0"/><rect width="1.5" height="1.3" fill="#4c4c4c"/><rect x="1.5" y="1.3" width="1.5" height="1.3" fill="#4c4c4c"/></pattern>
<pattern id="pHFD" patternUnits="userSpaceOnUse" width="5.7" height="4.35"><rect width="5.7" height="4.35" fill="#000"/><rect x="0.1" y="0.05" width="2.7" height="2.05" fill="#fff"/><rect x="2.95" y="2.23" width="2.7" height="2.05" fill="#fff"/></pattern>
<pattern id="pBBR" patternUnits="userSpaceOnUse" width="4" height="2"><rect width="4" height="2" fill="#e6e6e6"/><rect width="4" height="1" fill="#9a9a9a"/></pattern>
<linearGradient id="band" x1="0" y1="0" x2="0" y2="25" gradientUnits="userSpaceOnUse" spreadMethod="repeat"><stop offset="0" stop-color="#000" stop-opacity="0"/><stop offset="0.5" stop-color="#000" stop-opacity="0.08"/><stop offset="1" stop-color="#000" stop-opacity="0"/></linearGradient>
</defs>
<text x="41.6" y="180.0" font-size="14.6" font-weight="normal" fill="#000" text-anchor="start" textLength="9.9" lengthAdjust="spacingAndGlyphs" >C</text>
<rect x="67.2" y="211.0" width="35.7" height="88.39999999999998" fill="url(#pNCD)" stroke="#000" stroke-width="2" />
<rect x="68.2" y="212.0" width="33.7" height="86.39999999999998" fill="url(#band)" stroke="none" stroke-width="0" />
<line x1="85.05000000000001" y1="207.0" x2="85.05000000000001" y2="210.0" stroke="#000" stroke-width="1.6" />
<line x1="75.0" y1="207.0" x2="94.8" y2="207.0" stroke="#000" stroke-width="1.7" />
<rect x="121.1" y="218.5" width="35.5" height="80.89999999999998" fill="url(#pHFD)" stroke="#000" stroke-width="2" />
<line x1="138.85" y1="210.3" x2="138.85" y2="217.5" stroke="#000" stroke-width="1.6" />
<line x1="129.2" y1="210.3" x2="148.8" y2="210.3" stroke="#000" stroke-width="1.7" />
<rect x="175.0" y="251.0" width="35.900000000000006" height="48.39999999999998" fill="url(#pBBR)" stroke="#000" stroke-width="2" />
<line x1="192.95" y1="243.4" x2="192.95" y2="250.0" stroke="#000" stroke-width="1.6" />
<line x1="183.1" y1="243.4" x2="202.5" y2="243.4" stroke="#000" stroke-width="1.7" />
<line x1="58.0" y1="193.5" x2="58.0" y2="300.0" stroke="#000" stroke-width="1.5" />
<line x1="53.5" y1="194.1" x2="58.0" y2="194.1" stroke="#000" stroke-width="1.4" />
<line x1="53.5" y1="215.2" x2="58.0" y2="215.2" stroke="#000" stroke-width="1.4" />
<line x1="53.5" y1="236.3" x2="58.0" y2="236.3" stroke="#000" stroke-width="1.4" />
<line x1="53.5" y1="257.4" x2="58.0" y2="257.4" stroke="#000" stroke-width="1.4" />
<line x1="53.5" y1="278.5" x2="58.0" y2="278.5" stroke="#000" stroke-width="1.4" />
<line x1="53.5" y1="299.4" x2="58.0" y2="299.4" stroke="#000" stroke-width="1.4" />
<text x="52.2" y="197.0" font-size="8.2" font-weight="bold" fill="#000" text-anchor="end" textLength="21.2" lengthAdjust="spacingAndGlyphs" >1000</text>
<text x="52.2" y="218.1" font-size="8.2" font-weight="bold" fill="#000" text-anchor="end" textLength="15.7" lengthAdjust="spacingAndGlyphs" >800</text>
<text x="52.2" y="239.20000000000002" font-size="8.2" font-weight="bold" fill="#000" text-anchor="end" textLength="15.7" lengthAdjust="spacingAndGlyphs" >600</text>
<text x="52.2" y="260.29999999999995" font-size="8.2" font-weight="bold" fill="#000" text-anchor="end" textLength="15.7" lengthAdjust="spacingAndGlyphs" >400</text>
<text x="52.2" y="281.4" font-size="8.2" font-weight="bold" fill="#000" text-anchor="end" textLength="15.7" lengthAdjust="spacingAndGlyphs" >200</text>
<text x="52.2" y="302.29999999999995" font-size="8.2" font-weight="bold" fill="#000" text-anchor="end" textLength="4.9" lengthAdjust="spacingAndGlyphs" >0</text>
<line x1="54.0" y1="299.4" x2="246" y2="299.4" stroke="#000" stroke-width="1.25" />
<line x1="85.0" y1="299.4" x2="85.0" y2="302.2" stroke="#000" stroke-width="1.1" />
<text x="74.9" y="309.6" font-size="7.3" font-weight="bold" fill="#000" text-anchor="start" textLength="20.2" lengthAdjust="spacingAndGlyphs" >NCD</text>
<line x1="138.9" y1="299.4" x2="138.9" y2="302.2" stroke="#000" stroke-width="1.1" />
<text x="128.8" y="309.6" font-size="7.3" font-weight="bold" fill="#000" text-anchor="start" textLength="19.4" lengthAdjust="spacingAndGlyphs" >HFD</text>
<line x1="192.4" y1="299.4" x2="192.4" y2="302.2" stroke="#000" stroke-width="1.1" />
<text x="169.9" y="309.6" font-size="7.3" font-weight="bold" fill="#000" text-anchor="start" textLength="46.3" lengthAdjust="spacingAndGlyphs" >HFD+BBR</text>
<line x1="76.2" y1="192.6" x2="196.5" y2="192.6" stroke="#000" stroke-width="1.5" />
<line x1="76.2" y1="188.8" x2="76.2" y2="196.2" stroke="#000" stroke-width="1.8" />
<line x1="196.5" y1="188.8" x2="196.5" y2="196.2" stroke="#000" stroke-width="1.8" />
<text x="137.3" y="192.85" font-size="9.5" font-weight="bold" fill="#000" text-anchor="middle" >*</text>
<line x1="135.3" y1="202.5" x2="197.9" y2="202.5" stroke="#000" stroke-width="1.5" />
<line x1="135.3" y1="199.0" x2="135.3" y2="206.0" stroke="#000" stroke-width="1.8" />
<line x1="197.9" y1="199.0" x2="197.9" y2="206.0" stroke="#000" stroke-width="1.8" />
<text x="168.4" y="202.65" font-size="9.5" font-weight="bold" fill="#000" text-anchor="middle" >*</text>
<rect x="24" y="205" width="14.9" height="85" fill="#fff" stroke="none" stroke-width="0" />
<text transform="translate(33.9,285.7) rotate(-90)" font-size="10.2" font-weight="bold" fill="#111" stroke="#111" stroke-width="0.3" textLength="77.5" lengthAdjust="spacingAndGlyphs">Rarefaction estimates</text>
<text x="286.2" y="179.8" font-size="14.6" font-weight="normal" fill="#000" text-anchor="start" textLength="9.7" lengthAdjust="spacingAndGlyphs" >D</text>
<rect x="310.3" y="214.0" width="37.69999999999999" height="85.60000000000002" fill="url(#pNCD)" stroke="#000" stroke-width="2" />
<rect x="311.3" y="215.0" width="35.69999999999999" height="83.60000000000002" fill="url(#band)" stroke="none" stroke-width="0" />
<line x1="329.15" y1="211.9" x2="329.15" y2="213.0" stroke="#000" stroke-width="1.6" />
<line x1="318.9" y1="211.9" x2="339.6" y2="211.9" stroke="#000" stroke-width="1.7" />
<rect x="367.5" y="210.7" width="38.0" height="88.90000000000003" fill="url(#pHFD)" stroke="#000" stroke-width="2" />
<line x1="386.5" y1="209.1" x2="386.5" y2="209.7" stroke="#000" stroke-width="1.6" />
<line x1="376.3" y1="209.1" x2="396.6" y2="209.1" stroke="#000" stroke-width="1.7" />
<rect x="424.8" y="236.3" width="38.0" height="63.30000000000001" fill="url(#pBBR)" stroke="#000" stroke-width="2" />
<line x1="443.8" y1="229.0" x2="443.8" y2="235.3" stroke="#000" stroke-width="1.6" />
<line x1="433.5" y1="229.0" x2="454.0" y2="229.0" stroke="#000" stroke-width="1.7" />
<line x1="300.4" y1="195.65" x2="300.4" y2="300.20000000000005" stroke="#000" stroke-width="1.5" />
<line x1="295.9" y1="196.25" x2="300.4" y2="196.25" stroke="#000" stroke-width="1.4" />
<line x1="295.9" y1="222.1" x2="300.4" y2="222.1" stroke="#000" stroke-width="1.4" />
<line x1="295.9" y1="247.9" x2="300.4" y2="247.9" stroke="#000" stroke-width="1.4" />
<line x1="295.9" y1="273.8" x2="300.4" y2="273.8" stroke="#000" stroke-width="1.4" />
<line x1="295.9" y1="299.6" x2="300.4" y2="299.6" stroke="#000" stroke-width="1.4" />
<text x="294.6" y="199.15" font-size="8.2" font-weight="bold" fill="#000" text-anchor="end" textLength="5.2" lengthAdjust="spacingAndGlyphs" >8</text>
<text x="294.6" y="225.0" font-size="8.2" font-weight="bold" fill="#000" text-anchor="end" textLength="5.2" lengthAdjust="spacingAndGlyphs" >6</text>
<text x="294.6" y="250.8" font-size="8.2" font-weight="bold" fill="#000" text-anchor="end" textLength="5.2" lengthAdjust="spacingAndGlyphs" >4</text>
<text x="294.6" y="276.7" font-size="8.2" font-weight="bold" fill="#000" text-anchor="end" textLength="5.2" lengthAdjust="spacingAndGlyphs" >2</text>
<text x="294.6" y="302.5" font-size="8.2" font-weight="bold" fill="#000" text-anchor="end" textLength="5.0" lengthAdjust="spacingAndGlyphs" >0</text>
<line x1="296.4" y1="299.6" x2="488.7" y2="299.6" stroke="#000" stroke-width="1.25" />
<line x1="329.1" y1="299.6" x2="329.1" y2="302.40000000000003" stroke="#000" stroke-width="1.1" />
<text x="318.5" y="309.6" font-size="7.3" font-weight="bold" fill="#000" text-anchor="start" textLength="20.9" lengthAdjust="spacingAndGlyphs" >NCD</text>
<line x1="386.4" y1="299.6" x2="386.4" y2="302.40000000000003" stroke="#000" stroke-width="1.1" />
<text x="376.3" y="309.6" font-size="7.3" font-weight="bold" fill="#000" text-anchor="start" textLength="20.4" lengthAdjust="spacingAndGlyphs" >HFD</text>
<line x1="443.2" y1="299.6" x2="443.2" y2="302.40000000000003" stroke="#000" stroke-width="1.1" />
<text x="418.7" y="309.6" font-size="7.3" font-weight="bold" fill="#000" text-anchor="start" textLength="49.3" lengthAdjust="spacingAndGlyphs" >HFD+BBR</text>
<line x1="319.8" y1="194.6" x2="447.5" y2="194.6" stroke="#000" stroke-width="1.5" />
<line x1="319.8" y1="191.3" x2="319.8" y2="197.8" stroke="#000" stroke-width="1.8" />
<line x1="447.5" y1="191.3" x2="447.5" y2="197.8" stroke="#000" stroke-width="1.8" />
<text x="384.4" y="195.45" font-size="9.5" font-weight="bold" fill="#000" text-anchor="middle" >*</text>
<line x1="382.6" y1="204.2" x2="449.4" y2="204.2" stroke="#000" stroke-width="1.5" />
<line x1="382.6" y1="201.3" x2="382.6" y2="207.8" stroke="#000" stroke-width="1.8" />
<line x1="449.4" y1="201.3" x2="449.4" y2="207.8" stroke="#000" stroke-width="1.8" />
<text x="417.5" y="204.85" font-size="9.5" font-weight="bold" fill="#000" text-anchor="middle" >*</text>
<text transform="translate(286.3,288.2) rotate(-90)" font-size="9.8" font-weight="bold" fill="#111" stroke="#111" stroke-width="0.25" textLength="80" lengthAdjust="spacingAndGlyphs">Shannon-Wiener index</text>
</svg>
</body></html>
